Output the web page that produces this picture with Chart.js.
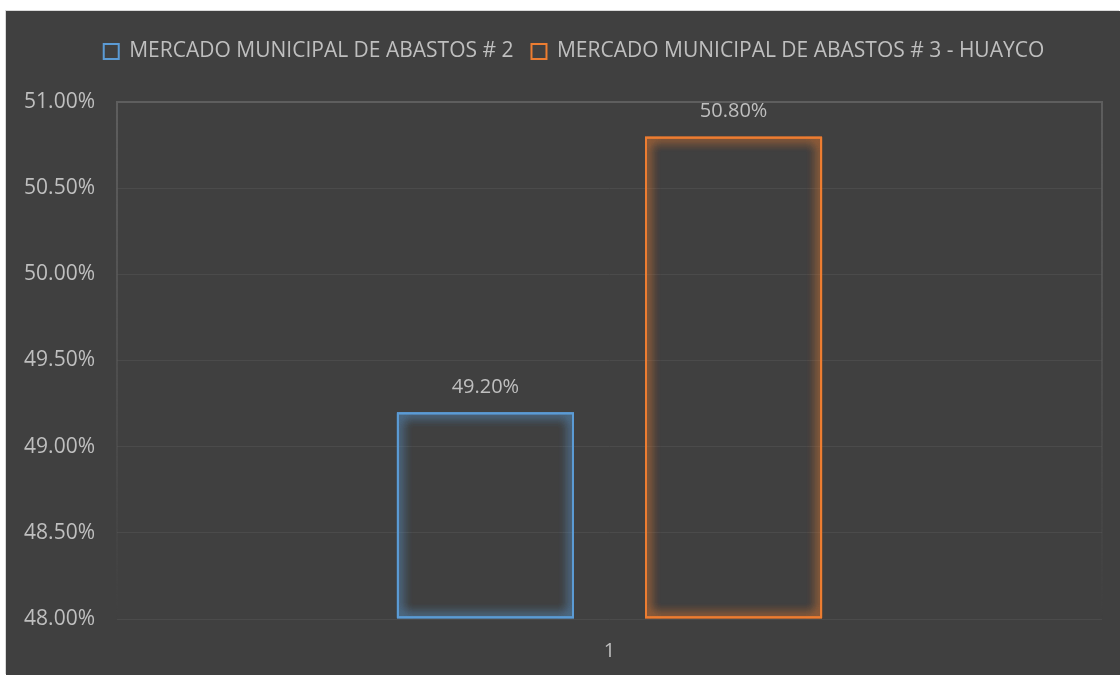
<!DOCTYPE html>
<html>
<head>
<meta charset="utf-8">
<script src="https://cdn.jsdelivr.net/npm/chart.js@4"></script>
<style>
  html, body { margin: 0; padding: 0; background: #ffffff; }
  .chart-box {
    position: absolute;
    left: 6px;
    top: 11px;
    width: 1114px;
    height: 664px;
    background: #404040;
    box-shadow: -1px -1px 0 #d9d9d9;
  }
</style>
</head>
<body>
<div class="chart-box"><canvas id="barChart"></canvas></div>
<script>
  "use strict";

  const categories = ["1"];
  const seriesNames = [
    "MERCADO MUNICIPAL DE ABASTOS # 2",
    "MERCADO MUNICIPAL DE ABASTOS # 3 - HUAYCO",
  ];
  const seriesValues = [[0.492], [0.508]];
  const seriesColors = ["#5B9BD5", "#ED7D31"];
  const yTicks = [0.48, 0.485, 0.49, 0.495, 0.5, 0.505, 0.51];

  const textColor = "#bfbfbf";
  const fontFamily = "'Open Sans', sans-serif";

  function pct(v) {
    return (v * 100).toFixed(2) + "%";
  }

  // glow round each bar outline (draw the dataset again with a shadow)
  const glow = {
    id: "glow",
    beforeDatasetDraw: (chart, args) => {
      const ctx = chart.ctx;
      ctx.save();
      ctx.shadowColor = seriesColors[args.index];
      ctx.shadowBlur = 12;
    },
    afterDatasetDraw: (chart, args) => {
      args.meta.controller.draw();
      args.meta.controller.draw();
      chart.ctx.restore();
    },
  };

  // plot area frame, fading toward the bottom
  const frame = {
    id: "frame",
    beforeDatasetsDraw: (chart) => {
      const {
        ctx,
        chartArea: { top, bottom, left, right },
      } = chart;
      const grad = ctx.createLinearGradient(0, top, 0, bottom);
      grad.addColorStop(0, "#5e5e5e");
      grad.addColorStop(1, "rgba(94,94,94,0)");
      ctx.save();
      ctx.strokeStyle = grad;
      ctx.lineWidth = 2;
      ctx.beginPath();
      ctx.moveTo(left, bottom);
      ctx.lineTo(left, top);
      ctx.lineTo(right, top);
      ctx.lineTo(right, bottom);
      ctx.stroke();
      ctx.restore();
    },
  };

  // make room under the legend, nudge it right like the original
  const legendSpace = {
    id: "legendSpace",
    beforeLayout: (chart) => {
      const lg = chart.legend;
      if (!lg || lg._patched) return;
      const fit = lg.fit;
      lg.fit = function () {
        fit.call(this);
        this.height = 79;
      };
      lg._patched = true;
    },
    afterLayout: (chart) => {
      const lg = chart.legend;
      if (!lg) return;
      lg.left += 20;
      lg.right += 20;
    },
  };

  const valueLabels = {
    id: "valueLabels",
    afterDatasetsDraw: (chart) => {
      const ctx = chart.ctx;
      ctx.save();
      ctx.textAlign = "center";
      ctx.textBaseline = "middle";
      ctx.font = "20px " + fontFamily;
      ctx.fillStyle = textColor;
      chart.data.datasets.forEach((ds, i) => {
        chart.getDatasetMeta(i).data.forEach((bar, j) => {
          ctx.fillText(pct(ds.data[j]), bar.x, bar.y - 25);
        });
      });
      ctx.restore();
    },
  };

  const ctx = document.getElementById("barChart");

  new Chart(ctx, {
    type: "bar",
    data: {
      labels: categories,
      datasets: seriesNames.map((name, i) => ({
        label: name,
        data: seriesValues[i],
        base: yTicks[0],
        backgroundColor: "rgba(0,0,0,0)",
        borderColor: seriesColors[i],
        borderWidth: 2,
        borderSkipped: false,
        categoryPercentage: 0.504,
        barPercentage: 0.714,
      })),
    },
    options: {
      responsive: true,
      maintainAspectRatio: false,
      animation: false,
      layout: {
        padding: { left: 0, right: 18, top: 12, bottom: 0 },
      },
      plugins: {
        legend: {
          position: "top",
          labels: {
            color: textColor,
            font: { size: 21, family: fontFamily },
            boxWidth: 15,
            boxHeight: 15,
            padding: 18,
          },
        },
        tooltip: { enabled: false },
      },
      scales: {
        x: {
          grid: { display: false },
          border: { display: false },
          ticks: {
            color: textColor,
            font: { size: 20, family: fontFamily },
            padding: 12,
          },
        },
        y: {
          min: yTicks[0],
          max: yTicks[yTicks.length - 1],
          afterBuildTicks: (scale) => {
            scale.ticks = yTicks.map((v) => ({ value: v }));
          },
          afterFit: (scale) => {
            scale.width = 111;
          },
          grid: {
            color: "#4b4b4b",
            lineWidth: 1,
            drawTicks: false,
          },
          border: { display: false },
          ticks: {
            color: textColor,
            font: { size: 21, family: fontFamily },
            padding: 22,
            callback: (v) => pct(v),
          },
        },
      },
    },
    plugins: [legendSpace, glow, frame, valueLabels],
  });
</script>
</body>
</html>
